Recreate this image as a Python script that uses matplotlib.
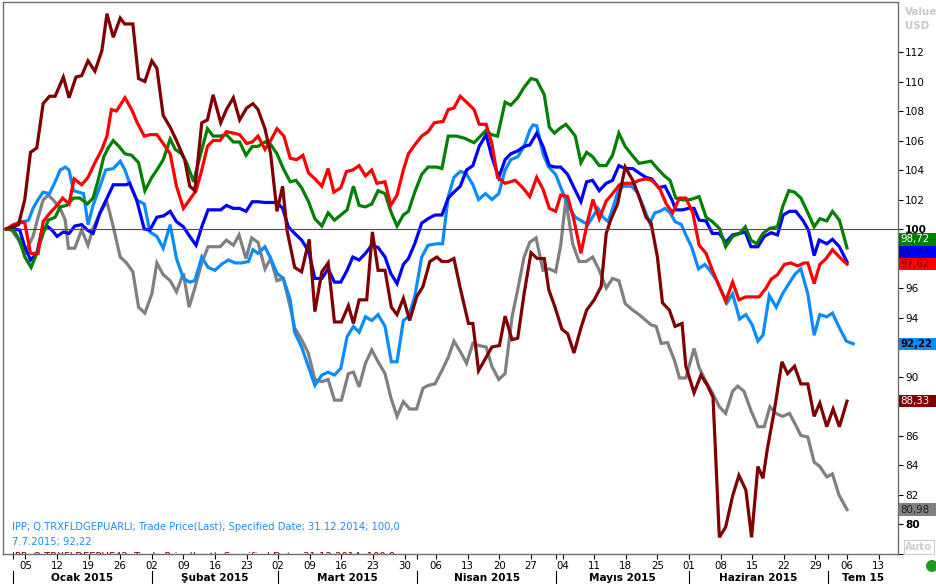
import matplotlib
matplotlib.use("Agg")
import matplotlib.pyplot as plt
from matplotlib.patches import Rectangle, Ellipse
from matplotlib.lines import Line2D
import pandas as pd
import numpy as np

# ---------------- data (x = trading-day position since 31.12.2014) ----------------
maroon_x = [0,1.9,2.9,3.8,4.8,5.8,6.8,7.7,9.0,9.9,11.0,11.9,12.9,14.0,15.1,15.9,16.9,18.0,18.7,20.0,20.9,21.9,23.0,23.8,24.8,25.9,26.9,28.2,29.0,29.8,30.9,31.8,32.7,33.9,34.8,35.9,36.9,38.0,39.0,39.8,40.9,41.8,42.8,43.7,44.4,45.6,46.7,47.9,48.8,49.9,50.9,51.9,53.0,54.1,54.9,55.8,57.0,57.9,58.8,59.9,60.9,61.8,62.8,63.8,64.9,65.9,67.0,68.1,68.9,69.9,70.8,71.8,73.1,73.8,74.7,75.9,76.8,78.0,78.9,80.0,80.9,81.9,83.0,84.0,85.1,85.8,86.8,87.9,88.8,89.8,90.9,91.8,93.0,94.1,94.9,95.6,96.7,97.9,99.1,100.1,101.2,102.0,103.0,103.8,104.9,105.8,106.9,107.5,108.8,109.9,110.9,111.8,112.8,113.8,114.9,115.9,117.0,117.9,118.9,119.7,120.4,121.5,122.7,123.6,124.7,125.7,126.8,127.8,128.7,129.8,130.8,131.8,133.0]
maroon_y = [100.0,100.3,102.0,105.2,105.5,108.5,109.0,109.0,110.3,108.9,110.3,110.4,111.4,110.7,112.1,114.6,113.0,114.3,113.9,113.9,110.2,110.0,111.4,110.9,107.7,106.9,106.0,104.7,102.9,102.6,107.2,107.4,109.1,107.2,108.1,108.9,107.4,108.2,108.5,108.1,106.8,105.1,101.2,102.9,99.9,97.4,97.1,99.3,94.4,97.1,97.7,93.7,93.7,94.8,93.6,95.2,95.2,99.8,97.2,97.2,94.7,94.2,95.3,93.8,95.4,96.1,97.8,98.1,97.8,97.8,98.0,96.0,93.6,93.6,90.4,91.3,92.0,92.1,94.1,92.5,92.6,95.6,98.4,98.0,98.0,95.9,94.7,93.2,92.9,91.6,93.3,94.5,95.2,96.1,99.7,100.6,101.7,104.2,103.3,102.2,100.8,100.4,98.1,95.0,94.5,93.4,93.6,90.7,88.9,90.1,89.4,88.6,79.1,79.8,81.9,83.3,82.3,79.1,83.9,83.1,85.1,87.7,91.0,90.2,90.7,89.5,89.5,87.3,88.2,86.6,87.8,86.6,88.33]

red_x = [0,1.1,2.4,2.9,3.8,5.0,5.8,6.9,8.0,8.9,9.9,10.7,11.9,12.9,14.0,15.1,15.9,16.6,17.4,18.75,19.8,20.7,21.8,22.8,23.8,24.8,25.9,26.9,28.0,29.0,30.0,30.9,31.8,32.7,33.8,34.8,35.9,36.9,38.0,38.9,39.8,40.9,41.8,42.8,43.9,44.9,45.9,46.9,47.8,48.8,49.9,50.9,51.8,52.9,53.8,54.8,55.8,56.8,57.8,58.6,59.9,60.8,61.8,62.8,63.6,64.6,65.7,66.7,67.7,69.1,69.9,70.8,71.8,72.8,74.0,74.8,75.9,76.8,77.7,78.9,80.5,81.7,82.8,83.9,84.9,85.9,86.9,87.7,88.8,89.8,90.9,92.0,92.8,93.8,94.9,95.9,97.0,97.9,99.1,100.1,101.2,102.1,103.3,104.4,105.4,106.5,107.5,108.6,109.6,110.7,111.7,112.8,113.8,114.9,115.9,117.0,118.1,119.1,120.2,121.0,122.0,123.1,124.1,125.2,126.2,126.8,127.8,128.7,129.7,130.7,131.8,133.0]
red_y = [100.0,100.3,100.5,100.4,98.35,98.35,100.5,101.1,101.6,102.1,101.7,103.4,103.0,103.5,104.5,105.4,106.3,108.1,108.0,108.9,108.1,107.2,106.3,106.4,106.4,105.8,105.1,102.9,101.4,102.0,102.6,104.0,105.6,106.0,106.0,106.6,106.5,106.4,105.8,105.9,106.3,105.4,106.0,106.8,106.3,104.8,104.7,105.0,103.8,103.4,102.9,104.1,102.5,102.8,103.9,104.0,104.3,103.6,104.0,103.1,103.2,101.6,102.3,104.0,105.1,105.7,106.3,106.6,107.2,107.3,108.1,108.2,109.0,108.6,108.1,107.1,107.1,105.8,103.5,103.1,103.3,102.8,102.2,103.5,102.7,101.4,101.2,102.3,102.2,100.6,98.35,100.6,102.0,100.7,101.9,102.4,103.0,103.1,103.1,103.3,103.4,103.3,102.8,101.7,101.1,102.1,102.1,101.1,98.9,98.35,97.2,96.1,95.1,96.4,95.2,95.4,95.4,95.4,96.0,96.6,96.9,97.6,97.7,97.5,97.7,97.7,96.3,97.6,98.0,98.6,98.1,97.62]

green_x = [0,1.1,2.1,2.9,3.9,4.8,5.8,6.6,7.7,8.5,9.5,10.6,11.6,12.8,13.7,14.5,15.4,16.1,16.9,17.8,18.75,19.8,20.9,21.9,23.0,23.8,24.8,25.9,26.7,27.7,28.5,29.6,30.6,31.8,32.7,33.8,34.8,35.9,36.9,37.9,38.9,39.8,40.9,41.7,42.8,43.8,44.9,45.8,46.7,47.8,48.8,49.9,50.9,51.9,52.9,53.9,54.9,55.8,56.8,57.8,58.8,59.9,60.9,61.8,62.8,63.6,64.6,65.7,66.7,68.1,68.9,69.9,71.2,72.5,74.0,75.9,76.7,77.7,78.9,79.8,80.9,81.9,83.0,83.9,85.1,85.9,86.7,87.5,88.5,89.3,90.0,90.9,91.8,92.75,93.8,94.9,95.9,96.9,97.9,99.0,100.1,102.0,103.0,104.1,105.0,105.9,107.0,108.3,109.6,110.7,111.7,112.8,113.8,114.9,116.0,116.9,117.8,118.7,119.7,120.8,122.0,122.8,123.8,124.7,125.7,126.8,127.8,128.7,129.8,130.7,131.8,133.0]
green_y = [100.0,99.93,99.25,98.1,97.4,98.35,99.7,100.6,100.8,101.5,101.6,102.1,102.1,101.7,102.1,103.3,104.9,105.5,106.0,105.6,105.1,105.0,104.5,102.6,103.5,104.0,104.7,106.1,105.4,105.1,104.5,103.2,104.9,106.8,106.3,106.3,106.4,105.9,105.9,105.0,105.6,105.6,105.9,105.8,105.1,104.1,103.2,103.3,102.8,101.85,100.7,100.2,101.1,100.6,100.95,101.3,102.9,101.6,101.5,101.7,102.6,102.4,101.1,100.2,100.95,101.2,102.5,103.7,104.2,104.2,104.1,106.3,106.3,106.15,105.85,106.7,106.4,106.3,108.6,108.4,108.9,109.6,110.2,110.1,109.1,106.9,106.5,106.8,107.1,106.7,106.3,104.5,105.2,104.9,104.3,104.3,105.0,106.5,105.6,105.0,104.45,104.6,104.1,103.6,103.3,102.1,101.97,102.0,102.2,100.8,100.5,100.05,98.8,99.5,99.7,100.15,99.25,99.0,99.7,100.05,100.15,101.5,102.6,102.5,102.1,101.1,100.15,100.7,100.55,101.2,100.6,98.72]

blue_x = [0,1.1,2.1,2.9,3.8,4.8,5.6,6.4,7.2,8.0,9.0,9.9,10.8,11.9,12.8,13.7,14.8,15.9,16.9,18.0,18.9,19.5,20.6,21.8,22.7,23.8,24.9,25.9,26.9,28.0,29.0,30.0,30.9,31.9,33.0,33.9,34.8,35.9,36.9,37.9,38.9,39.8,40.9,42.8,43.7,44.6,45.6,46.7,47.8,48.8,49.9,50.9,51.9,52.9,53.9,54.8,55.8,56.8,57.8,58.8,59.9,60.8,61.8,62.8,63.6,64.6,65.7,66.7,67.8,68.9,69.9,70.8,71.8,72.8,73.8,74.8,75.9,76.8,77.9,78.9,79.8,80.9,81.9,82.8,83.9,84.9,85.9,86.8,87.7,88.8,89.8,90.9,91.8,92.75,93.8,94.9,95.9,96.9,97.9,99.1,100.1,101.2,102.1,103.2,104.2,105.3,105.9,107.0,107.9,108.8,109.6,110.7,111.7,112.8,113.8,114.9,116.0,116.9,117.8,118.9,119.9,121.0,122.0,122.9,123.9,124.9,126.0,126.9,127.8,128.6,129.8,130.7,131.8,133.0]
blue_y = [100.0,100.0,99.93,98.8,97.9,98.35,99.93,100.2,99.93,99.5,99.8,99.7,100.2,100.3,99.93,99.7,101.1,102.1,103.0,103.0,103.0,103.1,101.97,100.0,99.93,100.8,100.9,101.2,100.5,100.15,99.5,98.9,100.15,101.3,101.3,101.3,101.6,101.4,101.4,101.2,101.85,101.85,101.8,101.8,101.4,100.15,99.7,99.25,98.5,96.65,96.65,97.3,96.4,96.4,97.2,98.1,97.9,98.35,98.9,98.75,98.1,97.0,96.3,97.6,98.0,99.0,100.4,100.7,100.95,100.95,102.1,102.5,102.9,104.0,104.3,105.6,106.4,104.9,103.5,104.7,105.1,105.3,105.6,105.7,106.5,105.6,104.3,104.2,104.2,103.7,102.8,101.85,103.2,103.3,102.6,103.1,103.3,104.3,104.1,104.1,103.8,103.5,103.4,102.8,102.9,101.97,101.3,101.3,101.4,101.4,100.6,100.55,99.7,99.7,99.1,99.6,99.7,99.8,98.8,98.8,99.5,99.75,99.6,100.95,101.2,101.2,100.6,99.93,98.2,99.25,99.0,99.3,98.8,97.77]

lightblue_x = [0,1.1,2.1,3.5,4.2,5.0,5.8,6.8,7.7,8.5,9.3,9.9,10.6,11.4,12.2,12.9,13.7,14.8,15.7,16.9,18.0,18.75,19.65,20.6,21.8,22.7,23.8,24.8,25.9,26.9,28.0,29.0,29.8,30.9,31.9,33.0,34.0,35.1,36.2,37.2,38.3,39.0,39.8,40.9,41.8,42.8,43.8,44.9,45.6,46.7,47.75,48.8,49.9,50.9,51.9,52.9,53.9,54.9,55.8,56.8,57.8,58.8,59.9,60.9,61.8,62.8,63.6,64.6,65.7,66.7,68.1,69.0,69.9,70.8,71.8,72.7,73.8,74.7,75.8,76.8,77.9,78.9,79.8,80.9,81.9,82.8,83.3,83.9,84.9,85.8,86.9,88.0,89.0,90.0,92.0,93.6,94.4,95.2,96.0,96.8,97.6,98.9,99.8,100.8,101.8,102.6,103.4,104.2,105.0,105.8,106.8,107.6,108.4,109.5,110.5,111.3,112.4,113.2,114.0,114.9,116.0,117.0,118.0,118.9,119.7,120.7,121.8,122.8,123.8,124.8,125.7,126.8,127.8,128.7,129.8,130.7,131.8,132.9,134.0]
lightblue_y = [100.0,100.1,100.4,100.6,101.4,102.0,102.5,102.4,103.2,104.0,104.2,104.0,102.6,102.5,102.4,100.3,101.6,102.9,104.0,104.1,104.6,104.0,102.9,101.97,101.7,99.8,99.5,98.7,100.3,98.0,96.65,96.4,96.5,98.1,97.4,97.2,97.6,97.9,97.7,97.7,97.8,98.6,98.35,98.8,98.0,97.0,96.65,95.2,93.0,92.0,90.7,89.4,90.1,90.3,90.1,90.55,92.7,93.4,93.0,94.05,93.8,94.2,93.4,91.0,91.0,93.8,94.05,95.4,98.1,98.9,99.0,99.0,102.2,103.5,103.9,103.8,103.0,102.0,102.4,102.0,102.4,104.0,104.7,104.9,105.6,106.7,107.05,107.0,105.1,104.2,103.7,102.5,101.5,100.8,100.3,101.4,100.8,100.5,101.5,102.6,102.9,102.9,102.5,101.5,100.4,101.1,101.2,101.4,101.1,100.5,100.3,99.5,98.8,97.3,97.6,97.2,96.5,95.75,95.0,95.6,93.9,94.2,93.5,92.4,92.8,95.5,94.7,95.6,96.3,96.95,97.3,95.6,92.8,94.2,94.05,94.3,93.3,92.4,92.22]

gray_x = [0,0.8,1.9,2.9,4.2,5.0,5.8,6.6,7.4,8.5,9.3,9.8,10.8,11.9,12.9,13.7,14.8,15.9,16.9,18.0,19.0,20.0,20.9,21.9,23.0,23.8,24.8,25.9,26.9,28.0,28.9,29.8,30.9,31.9,33.0,33.8,34.8,35.9,36.8,37.9,38.8,39.8,40.9,41.8,42.8,43.8,44.9,45.6,46.7,47.75,48.8,49.9,50.9,51.9,53.0,54.1,54.9,55.8,56.8,57.8,58.8,59.9,60.8,61.8,62.8,63.8,64.9,65.9,66.7,67.8,68.9,69.9,70.8,71.8,72.8,73.8,74.8,75.9,76.8,77.9,78.9,80.0,80.9,81.9,82.8,83.8,84.9,85.9,86.9,87.7,88.5,89.6,90.6,91.7,92.75,93.8,94.9,95.9,96.9,97.9,99.1,100.1,101.2,102.0,102.8,103.6,104.6,105.7,106.5,107.5,108.8,109.6,110.7,111.7,112.8,113.8,114.9,115.7,116.7,117.8,118.9,119.9,120.8,121.75,122.8,123.9,124.9,125.7,126.8,127.8,128.7,129.8,130.7,131.7,133.0]
gray_y = [100.0,99.93,99.25,98.35,99.5,100.8,101.97,102.3,101.97,101.4,100.6,98.7,98.7,99.93,98.9,100.05,101.1,101.85,100.15,98.1,97.7,97.1,94.7,94.3,95.6,97.7,96.9,96.5,95.75,97.0,94.7,96.0,97.7,98.8,98.8,98.8,99.25,98.9,99.6,98.0,99.4,99.1,97.3,98.0,96.5,96.65,94.7,93.3,92.5,91.6,89.8,89.65,89.8,88.4,88.4,90.2,90.3,89.3,90.9,91.8,91.0,90.2,88.6,87.3,88.3,87.8,87.8,89.2,89.4,89.5,90.4,91.3,92.4,91.7,90.9,92.25,92.1,92.0,90.7,89.8,90.2,94.05,95.9,98.1,99.1,99.4,97.2,97.3,97.1,98.9,101.97,99.0,97.8,97.8,98.1,97.2,96.0,96.65,96.5,94.95,94.5,94.2,93.8,93.5,93.4,92.25,92.3,91.1,89.9,89.9,91.9,90.6,89.65,88.9,87.95,87.5,89.0,89.35,89.0,87.7,86.6,86.6,87.95,87.5,87.3,87.5,86.7,86.0,85.9,84.2,83.9,83.2,83.4,82.0,80.98]

month_labels = ["Ocak 2015", "Şubat 2015", "Mart 2015", "Nisan 2015",
                "Mayıs 2015", "Haziran 2015", "Tem 15"]
legend_lines = ["IPP; Q.TRXFLDGEPUARLI; Trade Price(Last); Specified Date; 31.12.2014; 100,0",
                "7.7.2015; 92,22",
                "IPP; Q.TRXFLDEEPUE42; Trade Price(Last); Specified Date; 31.12.2014; 100,0"]
y_ticks = list(range(78, 113, 2))

# ---------------- styling ----------------
C_MAROON, C_RED, C_GREEN = "#800000", "#ff0000", "#008000"
C_BLUE, C_LBLUE, C_GRAY = "#0000ff", "#0a8cff", "#808080"
FONT = "DejaVu Sans"
plt.rcParams["font.family"] = [FONT]

W, H = 936, 584
fig = plt.figure(figsize=(W / 100, H / 100), dpi=100)
fig.patch.set_facecolor("white")
ax = fig.add_axes([3 / W, 1 - 554 / H, 895 / W, 552 / H])

LW = 2.3
series = [
    (gray_x, gray_y, C_GRAY),
    (lightblue_x, lightblue_y, C_LBLUE),
    (blue_x, blue_y, C_BLUE),
    (green_x, green_y, C_GREEN),
    (red_x, red_y, C_RED),
    (maroon_x, maroon_y, C_MAROON),
]
for xs, ys, c in series:
    ax.plot(xs, ys, color=c, lw=LW, solid_joinstyle="miter", zorder=3)

ax.axhline(100, color="#ff0000", lw=0.8, zorder=5)

ax.set_xlim(-0.55, 141.07)
ax.set_ylim(77.97, 115.39)

for s in ax.spines.values():
    s.set_color("#6e6e6e")
    s.set_linewidth(1.0)

# value badges positions (stacked so they don't overlap)
last = [(ys[-1], c) for xs, ys, c in series]
half = 0.42
placed = []
for v, c in sorted(last):
    pos = v
    if placed and pos < placed[-1][0] + 2 * half:
        pos = placed[-1][0] + 2 * half
    placed.append((pos, v, c))

# y axis on the right (labels hidden where a value badge sits on top of them)
def covered(t):
    return any(abs(t - p) < 0.5 for p, _, _ in placed)

ax.yaxis.tick_right()
ax.set_yticks(y_ticks)
ax.set_yticklabels(["" if (t == 78 or covered(t)) else str(t) for t in y_ticks])
ax.tick_params(axis="y", direction="out", length=3.5, width=0.8, pad=1.5,
               labelsize=7.6, colors="black")
for lab, t in zip(ax.get_yticklabels(), y_ticks):
    if t in (80, 100):
        lab.set_fontweight("bold")

# x axis: weekly (Monday) ticks, trading-day positions
bdays = pd.bdate_range("2014-12-31", periods=142)
mondays = [i for i, d in enumerate(bdays) if d.weekday() == 0]
ax.set_xticks(mondays)
ax.set_xticklabels([f"{bdays[i].day:02d}" for i in mondays])
ax.tick_params(axis="x", direction="out", length=3.5, width=0.8, pad=1.5,
               labelsize=7.4, colors="black")
month_first = []
seen = set()
for i, d in enumerate(bdays):
    if (d.year, d.month) not in seen:
        seen.add((d.year, d.month))
        if d.year == 2015:
            month_first.append(i)
month_first = month_first[:7]
ax.set_xticks(month_first, minor=True)
ax.tick_params(axis="x", which="minor", direction="out", length=3.5, width=0.8)

tr = ax.get_xaxis_transform()
xmin, xmax = ax.get_xlim()
bounds = month_first + [xmax]
for k, lab in enumerate(month_labels):
    a = max(bounds[k], xmin)
    b = min(bounds[k + 1], xmax)
    ax.text((a + b) / 2, -24 / 552, lab, transform=tr, ha="center", va="center",
            fontsize=7.6, fontweight="bold", color="black", clip_on=False)
for m in month_first:
    ax.add_line(Line2D([m, m], [-17 / 552, -31 / 552], transform=tr,
                       color="black", lw=0.8, clip_on=False))

# legend text inside plot (bottom-left)
ax.text(0.01, (554 - 526.5) / 552, legend_lines[0], transform=ax.transAxes,
        fontsize=7.2, color="#1e8cff", va="center", ha="left")
ax.text(0.01, (554 - 541.5) / 552, legend_lines[1], transform=ax.transAxes,
        fontsize=7.2, color="#1e8cff", va="center", ha="left")
ax.text(0.01, (554 - 557) / 552, legend_lines[2], transform=ax.transAxes,
        fontsize=7.2, color=C_MAROON, va="center", ha="left", clip_on=True)

# value badges on the right axis
ytr = ax.get_yaxis_transform()
txtcol = {C_GRAY: "#202020", C_LBLUE: "black", C_BLUE: "#000080",
          C_GREEN: "white", C_RED: "#800000", C_MAROON: "white"}
for pos, v, c in placed:
    ax.add_patch(Rectangle((1.0 + 1 / 895, pos - half), 40 / 895, 2 * half,
                           transform=ytr, facecolor=c, edgecolor="none",
                           clip_on=False, zorder=6))
    ax.text(1.0 + 2 / 895, pos, f"{v:.2f}".replace(".", ","), transform=ytr,
            ha="left", va="center", fontsize=7.4, color=txtcol[c],
            fontweight="bold" if c == C_LBLUE else "normal",
            clip_on=False, zorder=7)

# header / misc decorations
fig.text(905 / W, 1 - 12 / H, "Value", ha="left", va="center", fontsize=7.4,
         fontweight="bold", color="#c8c8c8")
fig.text(905 / W, 1 - 26 / H, "USD", ha="left", va="center", fontsize=7.4,
         fontweight="bold", color="#c8c8c8")
fig.text(919 / W, 1 - 547 / H, "Auto", ha="center", va="center", fontsize=7.4,
         fontweight="bold", color="#cccccc",
         bbox=dict(boxstyle="square,pad=0.15", facecolor="white", edgecolor="#cccccc", lw=0.8))
fig.add_artist(Ellipse((932 / W, 1 - 566 / H), 12 / W, 12 / H,
                       transform=fig.transFigure, facecolor="#1f9a1f", edgecolor="none"))

fig.savefig("out.png", dpi=100, facecolor="white")
